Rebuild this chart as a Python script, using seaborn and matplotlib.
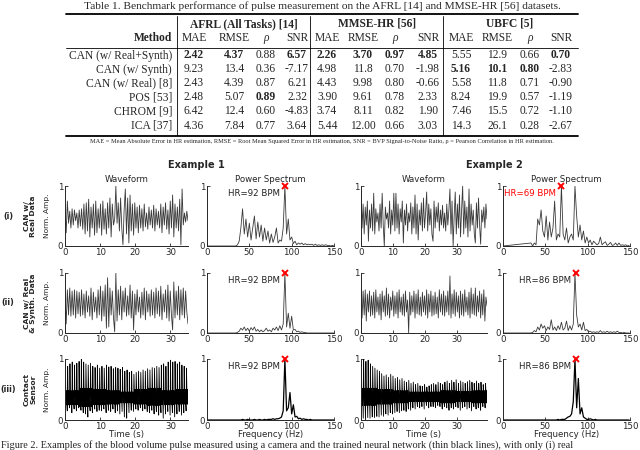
import numpy as np
import pandas as pd
import seaborn as sns
import matplotlib
matplotlib.use('Agg')
import matplotlib.pyplot as plt
from matplotlib.lines import Line2D

# ---------------- table data ----------------
methods = ['CAN (w/ Real+Synth)', 'CAN (w/ Synth)', 'CAN (w/ Real) [8]',
           'POS [53]', 'CHROM [9]', 'ICA [37]']
groups = ['AFRL (All Tasks) [14]', 'MMSE-HR [56]', 'UBFC [5]']
metrics = ['MAE', 'RMSE', 'ρ', 'SNR']
afrl = [['2.42', '4.37', '0.88', '6.57'], ['9.23', '13.4', '0.36', '-7.17'],
        ['2.43', '4.39', '0.87', '6.21'], ['2.48', '5.07', '0.89', '2.32'],
        ['6.42', '12.4', '0.60', '-4.83'], ['4.36', '7.84', '0.77', '3.64']]
mmse = [['2.26', '3.70', '0.97', '4.85'], ['4.98', '11.8', '0.70', '-1.98'],
        ['4.43', '9.98', '0.80', '-0.66'], ['3.90', '9.61', '0.78', '2.33'],
        ['3.74', '8.11', '0.82', '1.90'], ['5.44', '12.00', '0.66', '3.03']]
ubfc = [['5.55', '12.9', '0.66', '0.70'], ['5.16', '10.1', '0.80', '-2.83'],
        ['5.58', '11.8', '0.71', '-0.90'], ['8.24', '19.9', '0.57', '-1.19'],
        ['7.46', '15.5', '0.72', '-1.10'], ['14.3', '26.1', '0.28', '-2.67']]
# (row, group, metric) cells printed in bold
bold_cells = [(0, 0, 0), (0, 0, 1), (0, 0, 3), (0, 1, 0), (0, 1, 1), (0, 1, 2),
              (0, 1, 3), (0, 2, 3), (1, 2, 0), (1, 2, 1), (1, 2, 2), (3, 0, 2)]

# ---------------- waveform data (normalised amplitude) ----------------
wave_e1_real = [0.62, 0.22, 0.75, 0.38, 0.58, 0.30, 0.62, 0.35, 0.60, 0.42,
                0.55, 0.30, 0.60, 0.33, 0.62, 0.28, 0.70, 0.20, 0.72, 0.25,
                0.78, 0.15, 0.65, 0.30, 0.70, 0.18, 0.75, 0.22, 0.62, 0.30,
                0.70, 0.18, 0.75, 0.28, 0.62, 0.20, 0.72, 0.30, 0.80, 0.15,
                0.70, 0.35, 0.45, 1.00, 0.38, 0.72, 0.25, 0.80, 0.30, 0.02,
                0.60, 0.95, 0.20, 0.80, 0.05, 0.85, 0.25, 0.70, 0.18, 0.72,
                0.30, 0.65, 0.22, 0.68, 0.30, 0.62, 0.25, 0.70, 0.32, 0.55,
                0.28, 0.65, 0.35, 0.60, 0.30, 0.68, 0.25, 0.62, 0.35, 0.58,
                0.30, 0.70, 0.22, 0.65, 0.35, 0.72, 0.28, 0.60, 0.20, 0.75,
                0.30, 0.85, 0.15, 0.70, 0.30, 0.65, 0.25, 0.78, 0.02, 0.95,
                0.35, 0.55, 0.40, 0.58, 0.42]
wave_e2_real = [0.95, 0.30, 0.70, 0.20, 0.65, 0.35, 0.75, 0.08, 0.60, 0.30,
                0.70, 0.25, 0.88, 0.20, 0.62, 0.40, 0.55, 0.25, 0.70, 0.30,
                0.88, 0.35, 0.00, 0.65, 0.45, 0.55, 0.30, 0.75, 0.20, 0.60,
                0.35, 0.88, 0.25, 0.88, 0.30, 0.70, 0.20, 0.62, 0.40, 0.75,
                0.05, 0.60, 0.35, 0.70, 0.25, 0.55, 0.40, 0.72, 0.20, 0.65,
                0.30, 0.85, 0.20, 0.70, 0.10, 0.60, 0.35, 0.72, 0.25, 0.80,
                0.30, 0.55, 0.90, 0.25, 0.70, 0.35, 0.62, 0.20, 0.08, 0.75,
                0.30, 0.65, 0.40, 0.72, 0.25, 0.60, 0.35, 0.68, 0.30, 0.55,
                0.25, 0.70, 0.35, 0.60, 0.95, 0.20, 0.75, 0.00, 0.50, 0.90,
                0.20, 0.70, 0.30, 0.85, 0.15, 0.60, 1.00, 0.20, 0.75, 0.30,
                0.65, 0.15, 0.95, 0.25, 0.70, 0.35, 0.60, 0.20, 0.05, 0.72,
                0.30, 0.80, 0.35, 0.03, 0.60, 0.40, 0.65, 0.30, 0.70, 0.45]
wave_e1_synth = [0.65, 0.15, 0.72, 0.30, 0.75, 0.28, 0.70, 0.30, 0.72, 0.25,
                 0.70, 0.32, 0.68, 0.28, 0.72, 0.30, 0.65, 0.25, 0.70, 0.35,
                 0.62, 0.28, 0.75, 0.22, 0.68, 0.35, 0.60, 0.25, 0.72, 0.30,
                 0.78, 0.20, 0.70, 0.28, 0.80, 0.08, 0.92, 0.10, 0.75, 0.30,
                 0.70, 0.25, 0.02, 1.00, 0.20, 0.72, 0.30, 0.78, 0.22, 0.70,
                 0.35, 0.75, 0.28, 0.62, 0.30, 0.80, 0.25, 0.70, 0.05, 0.65,
                 0.30, 0.72, 0.35, 0.60, 0.25, 0.68, 0.30, 0.75, 0.22, 0.70,
                 0.35, 0.65, 0.28, 0.72, 0.30, 0.68, 0.25, 0.75, 0.32, 0.70,
                 0.28, 0.78, 0.22, 0.65, 0.35, 0.72, 0.25, 0.80, 0.20, 0.70,
                 0.30, 0.05, 0.85, 0.25, 0.70, 0.30, 0.78, 0.22, 0.72, 0.30,
                 0.75, 0.25, 0.70, 0.35, 0.15]
wave_e2_synth = [0.80, 0.25, 0.70, 0.30, 0.72, 0.20, 0.65, 0.35, 0.70, 0.28,
                 0.62, 0.30, 0.68, 0.25, 0.72, 0.35, 0.60, 0.30, 0.65, 0.22,
                 0.70, 0.35, 0.62, 0.28, 0.75, 0.30, 0.65, 0.25, 0.60, 0.38,
                 0.70, 0.28, 0.62, 0.32, 0.68, 0.25, 0.72, 0.35, 0.60, 0.30,
                 0.65, 0.28, 0.70, 0.35, 0.55, 0.00, 0.68, 0.30, 0.62, 0.35,
                 0.70, 0.25, 0.65, 0.32, 0.72, 0.30, 0.60, 0.28, 0.68, 0.35,
                 0.62, 0.30, 0.72, 0.25, 0.65, 0.35, 0.70, 0.28, 0.62, 0.30,
                 0.68, 0.32, 0.60, 0.25, 0.72, 0.35, 0.65, 0.30, 0.70, 0.28,
                 0.62, 0.35, 0.70, 0.30, 0.95, 0.25, 0.65, 0.32, 0.72, 0.28,
                 0.68, 0.35, 0.62, 0.25, 0.70, 0.30, 0.65, 0.28, 0.72, 0.35,
                 0.60, 0.30, 0.68, 0.25, 0.75, 0.32, 0.65, 0.30, 0.75, 0.28,
                 0.62, 0.35, 0.70, 0.25, 0.65, 0.30, 0.72, 0.20, 0.60, 0.45]

# contact sensor: per-beat peak / trough, band levels per block of beats
e1_peaks = [0.90, 0.88, 0.92, 0.95, 0.90, 0.93, 0.96, 1.00,
            0.95, 0.92, 0.90, 0.93, 0.88, 0.86, 0.90, 0.85,
            0.88, 0.85, 0.90, 0.87, 0.88, 0.84, 0.86, 0.85,
            0.83, 0.86, 0.80, 0.82, 0.78, 0.80, 0.75, 0.78,
            0.80, 0.78, 0.82, 0.80, 0.84, 0.82, 0.86, 0.85,
            0.88, 0.86, 0.90, 0.92, 0.88, 0.95, 0.98, 0.95,
            0.96, 0.92, 0.95, 0.90, 0.88, 0.85]
e1_troughs = [0.18, 0.15, 0.20, 0.12, 0.18, 0.15, 0.20, 0.16,
              0.12, 0.10, 0.05, 0.15, 0.12, 0.18, 0.14, 0.16,
              0.15, 0.18, 0.12, 0.16, 0.14, 0.18, 0.12, 0.15,
              0.10, 0.14, 0.05, 0.03, 0.12, 0.16, 0.14, 0.18,
              0.16, 0.20, 0.15, 0.18, 0.14, 0.12, 0.16, 0.10,
              0.14, 0.08, 0.12, 0.03, 0.10, 0.14, 0.08, 0.12,
              0.05, 0.10, 0.14, 0.08, 0.12, 0.15]
e1_band_top = [0.48, 0.52, 0.50, 0.48, 0.46, 0.50, 0.52, 0.48, 0.50]
e1_band_bot = [0.25, 0.22, 0.25, 0.26, 0.28, 0.26, 0.24, 0.25, 0.26]

e2_peaks = [0.95, 1.00, 0.96, 0.98, 0.92, 0.88, 0.85, 0.82,
            0.80, 0.76, 0.72, 0.74, 0.70, 0.75, 0.72, 0.68,
            0.70, 0.66, 0.68, 0.64, 0.62, 0.65, 0.60, 0.62,
            0.58, 0.60, 0.56, 0.55, 0.58, 0.54, 0.56, 0.58,
            0.60, 0.58, 0.62, 0.60, 0.58, 0.62, 0.64, 0.60,
            0.65, 0.62, 0.66, 0.60, 0.64, 0.62, 0.60, 0.63,
            0.65, 0.62, 0.60, 0.64, 0.60, 0.62, 0.58, 0.60]
e2_troughs = [0.02, 0.03, 0.00, 0.04, 0.03, 0.05, 0.04, 0.06,
              0.05, 0.08, 0.06, 0.10, 0.08, 0.12, 0.10, 0.12,
              0.14, 0.12, 0.15, 0.16, 0.14, 0.18, 0.16, 0.20,
              0.18, 0.22, 0.20, 0.22, 0.18, 0.24, 0.20, 0.22,
              0.22, 0.20, 0.24, 0.22, 0.18, 0.22, 0.20, 0.16,
              0.20, 0.18, 0.22, 0.20, 0.16, 0.20, 0.22, 0.18,
              0.20, 0.15, 0.22, 0.18, 0.20, 0.16, 0.22, 0.20]
e2_band_top = [0.52, 0.50, 0.48, 0.46, 0.46, 0.48, 0.47, 0.48]
e2_band_bot = [0.24, 0.26, 0.28, 0.30, 0.30, 0.28, 0.30, 0.28]

# ---------------- power spectra (2 Hz bins) ----------------
spec_e1_real = [0, 0.02, 0.08, 0.30, 0.62, 0.20, 0.45, 0.15, 0.38, 0.10,
                0.30, 0.50, 0.12, 0.40, 0.15, 0.35, 0.08, 0.30, 0.10, 0.25,
                0.05, 0.20, 0.06, 0.15, 0.30, 0.05, 0.10, 0.08, 0.30, 1.00,
                0.20, 0.45, 0.10, 0.15, 0.04, 0.08, 0.02, 0.05, 0.03, 0.05,
                0.02, 0.04, 0.02, 0.03, 0.02, 0.03, 0.01, 0.03, 0.01, 0.02,
                0.01, 0.02, 0.01, 0.02, 0.01, 0.01, 0.00, 0.01, 0.00]
spec_e2_real = [0.05, 0.00, 0.05, 0.02, 0.45, 0.35, 0.60, 0.25, 0.15, 0.50,
                0.10, 0.40, 0.15, 0.30, 0.75, 0.10, 0.20, 0.15, 1.00, 0.20,
                0.10, 0.30, 0.05, 0.15, 0.20, 0.10, 1.00, 0.50, 0.15, 0.35,
                0.10, 0.25, 0.05, 0.15, 0.05, 0.10, 0.02, 0.08, 0.05, 0.02,
                0.04, 0.15, 0.02, 0.05, 0.07, 0.01, 0.03, 0.06, 0.01, 0.02,
                0.05, 0.01, 0.05, 0.01, 0.02, 0.01, 0.02, 0.00, 0.01]
spec_e1_synth = [0, 0.01, 0.03, 0.08, 0.05, 0.10, 0.04, 0.08, 0.03, 0.09,
                 0.05, 0.10, 0.03, 0.06, 0.02, 0.05, 0.02, 0.04, 0.08, 0.03,
                 0.05, 0.02, 0.08, 0.05, 0.10, 0.04, 0.12, 0.05, 0.15, 1.00,
                 0.10, 0.33, 0.08, 0.28, 0.05, 0.06, 0.02, 0.03, 0.01, 0.02,
                 0.01, 0.01, 0, 0, 0, 0, 0, 0, 0, 0,
                 0, 0, 0, 0, 0, 0, 0, 0, 0]
spec_e2_synth = [0, 0.01, 0.04, 0.02, 0.10, 0.05, 0.15, 0.08, 0.12, 0.04,
                 0.10, 0.06, 0.22, 0.05, 0.10, 0.04, 0.12, 0.06, 0.18, 0.05,
                 0.08, 0.20, 0.04, 0.12, 0.05, 0.15, 1.00, 0.30, 0.10, 0.15,
                 0.05, 0.18, 0.04, 0.06, 0.02, 0.03, 0.01, 0.02, 0.01, 0.02,
                 0.01, 0.04, 0.01, 0.02, 0.01, 0.03, 0.01, 0.02, 0.01, 0.02,
                 0.01, 0.03, 0.01, 0.01, 0, 0.01, 0, 0, 0]
spec_e1_contact = [0, 0, 0, 0, 0.01, 0, 0, 0.01, 0, 0,
                   0, 0.01, 0, 0, 0.01, 0, 0, 0.01, 0, 0.01,
                   0.01, 0.01, 0.02, 0.01, 0.02, 0.02, 0.03, 0.05, 0.15, 1.00,
                   0.15, 0.20, 0.45, 0.10, 0.25, 0.05, 0.06, 0.02, 0.03, 0.01,
                   0.02, 0.01, 0.01, 0, 0.01, 0, 0, 0, 0, 0,
                   0, 0, 0, 0, 0, 0, 0, 0, 0]
spec_e2_contact = [0, 0, 0, 0, 0, 0, 0, 0, 0, 0,
                   0, 0, 0, 0, 0, 0, 0.01, 0, 0.01, 0.01,
                   0.01, 0.03, 0.05, 0.06, 0.10, 0.30, 1.00, 0.20, 0.68, 0.10,
                   0.20, 0.05, 0.03, 0.01, 0.01, 0.02, 0.01, 0, 0.01, 0,
                   0, 0, 0, 0, 0, 0, 0, 0, 0, 0,
                   0, 0, 0, 0, 0, 0, 0, 0, 0]

hr_values = [[92, 69], [92, 86], [92, 86]]
spec_start = [34, 33]          # first bin (Hz) of each example's spectra
durations = [35.0, 39.5]       # recording length (s)
row_ids = ['(i)', '(ii)', '(iii)']
row_names = ['CAN w/\nReal Data', 'CAN w/ Real\n& Synth. Data', 'Contact\nSensor']


def contact_trace(peaks, troughs, top, bot):
    n = len(peaks) // len(top)
    hi = np.repeat(top, n)
    lo = np.repeat(bot, n)
    y = []
    for p, tr, a, b in zip(peaks, troughs, hi, lo):
        y += [tr, p, a, b, a, b]
    return y


waves = [[wave_e1_real, wave_e2_real],
         [wave_e1_synth, wave_e2_synth],
         [contact_trace(e1_peaks, e1_troughs, e1_band_top, e1_band_bot),
          contact_trace(e2_peaks, e2_troughs, e2_band_top, e2_band_bot)]]
specs = [[spec_e1_real, spec_e2_real],
         [spec_e1_synth, spec_e2_synth],
         [spec_e1_contact, spec_e2_contact]]

# ---------------- figure ----------------
sns.set_style('ticks')
plt.rcParams['font.family'] = ['DejaVu Sans']
W, H = 640, 450
fig = plt.figure(figsize=(6.4, 4.5), dpi=100)
serif = 'Liberation Serif'


def fx(x):
    return x / W


def fy(y):
    return 1 - y / H


def ftext(x, y, s, **kw):
    fig.text(fx(x), fy(y), s, **kw)


def fline(xs, ys, lw):
    fig.add_artist(Line2D([fx(v) for v in xs], [fy(v) for v in ys], color='black',
                          lw=lw, transform=fig.transFigure))


# table
ftext(322, 6, 'Table 1. Benchmark performance of pulse measurement on the AFRL [14] '
      'and MMSE-HR [56] datasets.', ha='center', va='center', family=serif, fontsize=8.2)
fline([66, 578], [14, 14], 1.3)
fline([66, 578], [48, 48], 0.6)
fline([66, 578], [136, 136], 1.3)
for xv in [177, 310, 443]:
    fline([xv, xv], [16, 135], 0.6)
group_x = [244, 377, 510]
col_x = [[194, 234, 266, 297], [327, 363, 395, 428], [461, 497, 530, 561]]
for g, name in enumerate(groups):
    ftext(group_x[g], 24, name, ha='center', va='center', family=serif,
          fontsize=8.3, weight='bold')
    for m, met in enumerate(metrics):
        ftext(col_x[g][m], 38, met, ha='center', va='center', family=serif,
              fontsize=8.3, style='italic' if met == 'ρ' else 'normal')
ftext(172, 38, 'Method', ha='right', va='center', family=serif, fontsize=8.3, weight='bold')
row_y = [55.5, 69.5, 83.5, 97.5, 111.5, 125.5]
for r, meth in enumerate(methods):
    ftext(172, row_y[r], meth, ha='right', va='center', family=serif, fontsize=8.3)
    for g, tab in enumerate([afrl, mmse, ubfc]):
        for m in range(4):
            wgt = 'bold' if (r, g, m) in bold_cells else 'normal'
            ftext(col_x[g][m], row_y[r], tab[r][m], ha='center', va='center',
                  family=serif, fontsize=8.3, weight=wgt)
ftext(322, 141, 'MAE = Mean Absolute Error in HR estimation, RMSE = Root Mean Squared Error '
      'in HR estimation, SNR = BVP Signal-to-Noise Ratio, ρ = Pearson Correlation in HR '
      'estimation.', ha='center', va='center', family=serif, fontsize=4.6)

# plot grid
cols_x = [(65, 188), (207, 334), (361, 487), (503, 630)]
rows_y = [(186, 246), (273, 333), (359, 420)]
for ex in range(2):
    ftext(sum(cols_x[2 * ex]) / 2 + 70, 165, 'Example %d' % (ex + 1), ha='center',
          va='center', fontsize=7, weight='bold')

for r in range(3):
    y0, y1 = rows_y[r]
    yc = (y0 + y1) / 2
    ftext(8, yc, row_ids[r], ha='center', va='center', fontsize=5.8, weight='bold')
    ftext(30, yc, row_names[r], ha='center', va='center', rotation=90, fontsize=5.4,
          weight='bold', linespacing=1.1, multialignment='center')
    ftext(47, yc, 'Norm. Amp.', ha='center', va='center', rotation=90, fontsize=5.4)
    for ex in range(2):
        for kind in range(2):
            x0, x1 = cols_x[2 * ex + kind]
            ax = fig.add_axes([fx(x0), fy(y1), (x1 - x0) / W, (y1 - y0) / H])
            if kind == 0:
                y = waves[r][ex]
                df = pd.DataFrame({'t': np.linspace(0, durations[ex], len(y)), 'amp': y})
                col = 'black' if r == 2 else '#3a3a3a'
                sns.lineplot(data=df, x='t', y='amp', ax=ax, color=col,
                             lw=0.6, estimator=None, sort=False)
                ax.set_xlim(0, durations[ex])
                ax.set_xticks([0, 10, 20, 30])
                if r == 0:
                    ax.set_title('Waveform', fontsize=6.2, pad=3)
                xl = 'Time (s)'
            else:
                a = specs[r][ex]
                f = np.arange(spec_start[ex], spec_start[ex] + 2 * len(a), 2)
                df = pd.DataFrame({'f': np.r_[0, f], 'p': np.r_[0, a]})
                col = 'black' if r == 2 else '#3a3a3a'
                sns.lineplot(data=df, x='f', y='p', ax=ax, color=col,
                             lw=0.9 if r == 2 else 0.6, estimator=None, sort=False)
                ax.set_xlim(0, 150)
                ax.set_xticks([0, 50, 100, 150])
                hr = hr_values[r][ex]
                ax.plot([hr], [1.0], marker='x', color='red', ms=5, mew=1.4,
                        clip_on=False, zorder=5)
                tc = 'red' if (r == 0 and ex == 1) else '#222222'
                ax.text(hr - 6, 0.88, 'HR=%d BPM' % hr, ha='right', va='center',
                        fontsize=6.2, color=tc)
                if r == 0:
                    ax.set_title('Power Spectrum', fontsize=6.2, pad=3)
                xl = 'Frequency (Hz)'
            ax.set_ylim(0, 1)
            ax.set_yticks([0, 1])
            ax.set_yticklabels(['0', '1'])
            ax.set_ylabel('')
            ax.set_xlabel(xl if r == 2 else '', fontsize=6.2, labelpad=-0.5)
            ax.tick_params(direction='in', length=2, width=0.6, labelsize=6.2, pad=1.2)
            sns.despine(ax=ax)
            for s in ['left', 'bottom']:
                ax.spines[s].set_linewidth(0.7)

ftext(1, 450, 'Figure 2. Examples of the blood volume pulse measured using a camera and the '
      'trained neural network (thin black lines), with only (i) real', ha='left',
      va='bottom', family=serif, fontsize=7.4)

fig.savefig('out.png', dpi=100)
